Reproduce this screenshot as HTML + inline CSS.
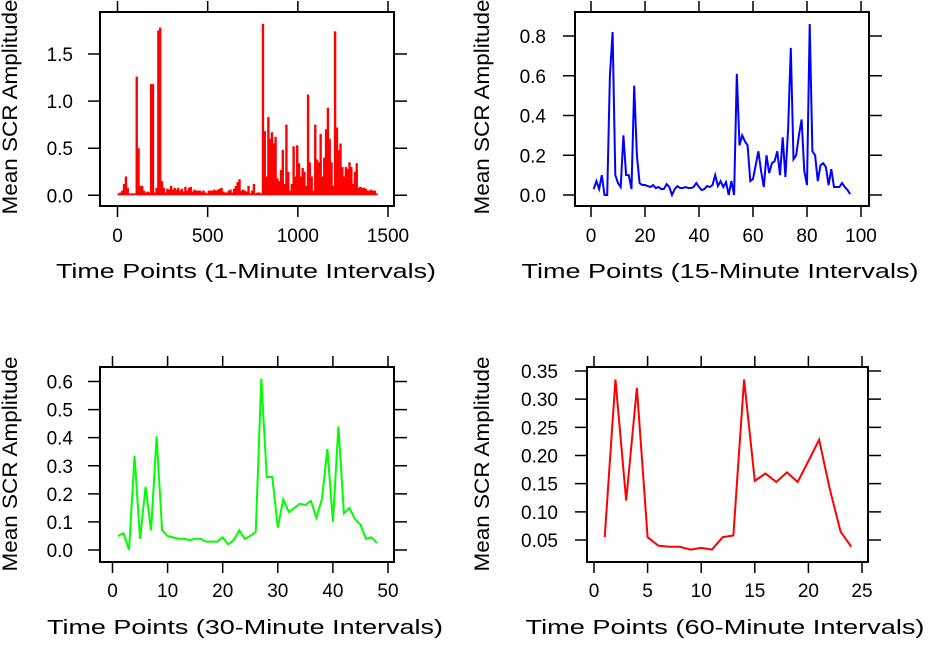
<!DOCTYPE html>
<html><head><meta charset="utf-8">
<style>
html,body{margin:0;padding:0;background:#fff;}
svg{display:block;font-family:"Liberation Sans",sans-serif;}
</style></head>
<body>
<svg id="chart" width="936" height="647" viewBox="0 0 936 647" xmlns="http://www.w3.org/2000/svg"></svg>
<script>
// Panel 1: 1-minute data, binned max per 10 minutes (bin start minute = index*10)
const p1Values = [0.02,0.03,0.05,0.12,0.2,0.08,0.02,0.02,0.02,0.02,
1.26,0.5,0.1,0.1,0.05,0.03,0.04,0.03,1.18,1.18,
0.03,0.08,1.75,1.78,0.15,0.08,0.03,0.07,0.06,0.1,
0.06,0.08,0.06,0.08,0.05,0.07,0.04,0.09,0.05,0.08,
0.09,0.04,0.06,0.05,0.05,0.05,0.04,0.05,0.03,0.02,
0.05,0.05,0.05,0.06,0.05,0.06,0.07,0.08,0.04,0.03,
0.03,0.05,0.06,0.03,0.07,0.1,0.14,0.17,0.05,0.06,
0.05,0.04,0.1,0.02,0.05,0.12,0.02,0.03,0.03,0.02,
1.82,0.68,0.2,0.83,0.6,0.67,0.55,0.62,0.18,0.15,
0.27,0.48,0.12,0.75,0.25,0.05,0.12,0.52,0.2,0.53,
0.34,0.2,0.29,0.25,0.1,1.07,0.35,0.2,0.05,0.75,
0.38,0.35,0.65,0.2,0.4,0.7,0.93,0.6,0.35,0.1,
1.74,0.72,0.48,0.55,0.3,0.2,0.3,0.28,0.35,0.3,
0.12,0.25,0.34,0.08,0.09,0.08,0.08,0.07,0.05,0.05,
0.06,0.05,0.05,0.02];
const p1BinWidth = 10;
const p1XTicks = [0,500,1000,1500];
const p1YTicks = ["0.0","0.5","1.0","1.5"];

// Panel 2: 15-minute intervals (points 1..96)
const p2Values = [0.03,0.07,0.03,0.1,0.0,0.0,0.6,0.82,0.1,0.06,
0.04,0.3,0.1,0.1,0.03,0.55,0.2,0.06,0.05,0.05,
0.045,0.04,0.05,0.035,0.04,0.03,0.03,0.055,0.04,0.0,
0.03,0.045,0.035,0.035,0.04,0.035,0.035,0.04,0.06,0.04,
0.025,0.03,0.045,0.04,0.05,0.1,0.045,0.07,0.04,0.065,
0.0,0.07,0.0,0.61,0.25,0.3,0.27,0.25,0.07,0.08,
0.15,0.22,0.12,0.04,0.2,0.11,0.16,0.17,0.22,0.1,
0.29,0.09,0.33,0.74,0.18,0.2,0.3,0.38,0.12,0.05,
0.86,0.22,0.2,0.07,0.15,0.16,0.14,0.05,0.13,0.04,
0.04,0.04,0.06,0.04,0.025,0.005];
const p2XTicks = [0,20,40,60,80,100];
const p2YTicks = ["0.0","0.2","0.4","0.6","0.8"];

// Panel 3: 30-minute intervals (points 1..48)
const p3Values = [0.05,0.06,0.0,0.335,0.04,0.225,0.07,0.405,0.07,0.05,
0.045,0.04,0.04,0.035,0.04,0.04,0.03,0.03,0.03,0.045,
0.02,0.035,0.07,0.04,0.05,0.065,0.61,0.26,0.26,0.08,
0.18,0.135,0.15,0.165,0.16,0.175,0.115,0.18,0.36,0.1,
0.44,0.13,0.15,0.11,0.09,0.04,0.045,0.025];
const p3XTicks = [0,10,20,30,40,50];
const p3YTicks = ["0.0","0.1","0.2","0.3","0.4","0.5","0.6"];

// Panel 4: 60-minute intervals (points 1..24)
const p4Values = [0.055,0.335,0.12,0.32,0.055,0.04,0.038,0.038,0.033,0.036,
0.033,0.055,0.058,0.335,0.155,0.168,0.153,0.17,0.153,0.19,
0.228,0.14,0.065,0.038];
const p4XTicks = [0,5,10,15,20,25];
const p4YTicks = ["0.05","0.10","0.15","0.20","0.25","0.30","0.35"];

const NS = "http://www.w3.org/2000/svg";
const svg = document.getElementById('chart');
function mk(tag, attrs, parent){
  const e = document.createElementNS(NS, tag);
  for (const k in attrs) e.setAttribute(k, attrs[k]);
  (parent||svg).appendChild(e);
  return e;
}

function panel(cfg){
  const g = mk('g', {});
  
  
  const sx = v => cfg.x0px + (v - cfg.x0) * (cfg.x1px - cfg.x0px) / (cfg.x1 - cfg.x0);
  const sy = v => cfg.y0px + (v - cfg.y0) * (cfg.y1px - cfg.y0px) / (cfg.y1 - cfg.y0);
  const box = mk('rect', {x:cfg.bx, y:cfg.by, width:cfg.bw, height:cfg.bh, fill:'none', stroke:'#000', 'stroke-width':2}, g);
  
  
  cfg.xTicks.forEach(t => {
    const x = sx(t);
    const tk = mk('path', {d:`M${x},${cfg.by-11}V${cfg.by} M${x},${cfg.by+cfg.bh}V${cfg.by+cfg.bh+11}`, stroke:'#000', 'stroke-width':1.5}, g);
    
    
    const lb = mk('text', {x:x, y:cfg.xLabY, 'font-size':19, 'text-anchor':'middle', fill:'#000'}, g);
    lb.textContent = String(t);
    
    
  });
  cfg.yTicks.forEach(s => {
    const y = sy(parseFloat(s));
    const tk = mk('path', {d:`M${cfg.bx-12},${y}H${cfg.bx} M${cfg.bx+cfg.bw},${y}H${cfg.bx+cfg.bw+13}`, stroke:'#000', 'stroke-width':1.5}, g);
    
    
    const lb = mk('text', {x:cfg.yLabX, y:y+7, 'font-size':19, 'text-anchor':'end', fill:'#000'}, g);
    lb.textContent = s;
    
    
  });
  const xt = mk('text', {x:cfg.xtX, y:cfg.xtY, 'font-size':20, 'text-anchor':'middle', textLength:cfg.xtLen, lengthAdjust:'spacingAndGlyphs', fill:'#000'}, g);
  xt.textContent = cfg.xTitle;
  
  
  const yt = mk('text', {x:0, y:0, 'font-size':21, 'text-anchor':'middle', textLength:215, lengthAdjust:'spacingAndGlyphs', fill:'#000', transform:`translate(${cfg.ytX},${cfg.ytY}) rotate(-90)`}, g);
  yt.textContent = 'Mean SCR Amplitude';
  
  
  if (cfg.bars){
    cfg.values.forEach((v, i) => {
      const xa = sx(i * cfg.binW), xb = sx((i + 1) * cfg.binW);
      const r = mk('rect', {x:xa, y:sy(v), width:(xb - xa) + 0.6, height:sy(0) - sy(v), fill:cfg.color}, g);
      
      
    });
  } else {
    const d = cfg.values.map((v, i) => (i ? 'L' : 'M') + sx(i + 1).toFixed(2) + ',' + sy(v).toFixed(2)).join('');
    const p = mk('path', {d:d, fill:'none', stroke:cfg.color, 'stroke-width':2, 'stroke-linejoin':'miter'}, g);
    
    
  }
}

panel({name:'panel-1-minute', bars:true, values:p1Values, binW:p1BinWidth, color:'#ff0000',
  x0:0, x1:1500, x0px:117.5, x1px:388, y0:0, y1:1.5, y0px:195.3, y1px:54,
  bx:100, by:12, bw:294, bh:194, xTicks:p1XTicks, yTicks:p1YTicks,
  xLabY:242, yLabX:73, xTitle:'Time Points (1-Minute Intervals)', xtX:246, xtY:278, xtLen:380, ytX:17, ytY:107});
panel({name:'panel-15-minute', values:p2Values, color:'#0000ff',
  x0:0, x1:100, x0px:591, x1px:861, y0:0, y1:0.8, y0px:195, y1px:36,
  bx:575, by:12, bw:294, bh:194, xTicks:p2XTicks, yTicks:p2YTicks,
  xLabY:242, yLabX:546, xTitle:'Time Points (15-Minute Intervals)', xtX:720, xtY:278, xtLen:397, ytX:489, ytY:107});
panel({name:'panel-30-minute', values:p3Values, color:'#00ff00',
  x0:0, x1:50, x0px:112.5, x1px:388, y0:0, y1:0.6, y0px:550, y1px:381.5,
  bx:100, by:367, bw:294, bh:195, xTicks:p3XTicks, yTicks:p3YTicks,
  xLabY:597, yLabX:73, xTitle:'Time Points (30-Minute Intervals)', xtX:245, xtY:634, xtLen:396, ytX:17, ytY:464});
panel({name:'panel-60-minute', values:p4Values, color:'#ff0000',
  x0:0, x1:25, x0px:594, x1px:862, y0:0.05, y1:0.35, y0px:540, y1px:371,
  bx:587, by:367, bw:281, bh:195, xTicks:p4XTicks, yTicks:p4YTicks,
  xLabY:597, yLabX:558, xTitle:'Time Points (60-Minute Intervals)', xtX:725, xtY:634, xtLen:399, ytX:489, ytY:464});
</script>
</body></html>
